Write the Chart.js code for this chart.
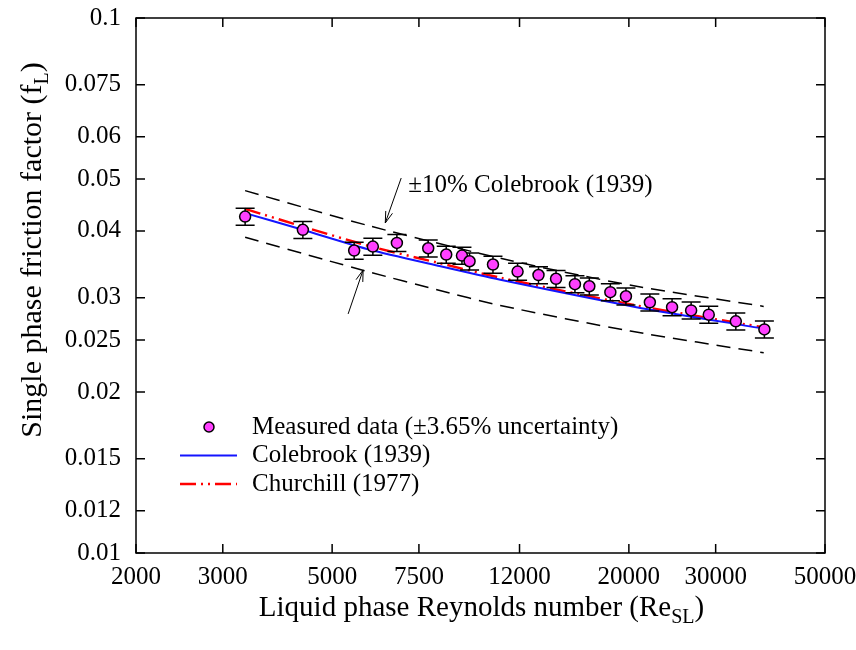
<!DOCTYPE html>
<html>
<head>
<meta charset="utf-8">
<script src="https://cdn.jsdelivr.net/npm/chart.js@4.4.1/dist/chart.umd.min.js"></script>
<style>
  html, body { margin: 0; padding: 0; background: #fff; }
  canvas { display: block; }
</style>
</head>
<body>
<canvas id="chart" width="856" height="650"></canvas>
<script>
// measured points
const reynolds = [3330, 4361, 5542, 6048, 6766, 7833, 8521, 9170, 9502, 10600, 11891,
  13112, 14231, 15546, 16627, 18342, 19729, 22060, 24472, 26752, 29048, 32964, 37670];
const frictionMeasured = [0.04254, 0.04018, 0.03676, 0.03739, 0.03799, 0.03712, 0.03613,
  0.03597, 0.03510, 0.03461, 0.03358, 0.03308, 0.03255, 0.03181, 0.03152, 0.03073,
  0.03019, 0.02942, 0.02881, 0.02841, 0.02789, 0.02710, 0.02618];
const uncertainty = 0.0365;

// correlations
const colebrookRe = [3330, 4340, 5970, 8160, 10970, 20600, 37550];
const colebrook = [0.04318, 0.04023, 0.03687, 0.03446, 0.03241, 0.02884, 0.02626];
const churchillRe = [3330, 4340, 5970, 8160, 10970, 20330, 37550];
const churchill = [0.04397, 0.04080, 0.03744, 0.03491, 0.03269, 0.02911, 0.02640];
const upperRe = [3330, 5970, 11490, 20330, 37550];
const upperBand = [0.04757, 0.04084, 0.03521, 0.03162, 0.02890];
const lowerRe = [3330, 4840, 5970, 8160, 10970, 20140, 37550];
const lowerBand = [0.03892, 0.03532, 0.03348, 0.03105, 0.02902, 0.02599, 0.02368];

// axes
const xTicks = [2000, 3000, 5000, 7500, 12000, 20000, 30000, 50000];
const yTicks = [0.01, 0.012, 0.015, 0.02, 0.025, 0.03, 0.04, 0.05, 0.06, 0.075, 0.1];

// annotation (data coordinates)
const bandLabel = '±10% Colebrook (1939)';
const bandLabelAt = [7134, 0.04874];
const arrows = [
  { from: [6904, 0.05022], to: [6409, 0.04139] },
  { from: [5388, 0.02798], to: [5779, 0.03381] }
];

const serif = "'Liberation Serif', 'Times New Roman', serif";
const pink = '#ff40ff';
const blue = '#1414ff';
const red = '#ff0000';

const pts = (xs, ys) => xs.map((x, i) => ({ x: x, y: ys[i] }));

function arrowHead(ctx, x0, y0, x1, y1) {
  const a = Math.atan2(y1 - y0, x1 - x0);
  const len = 12, spread = 0.3;
  ctx.beginPath();
  ctx.moveTo(x1 - len * Math.cos(a - spread), y1 - len * Math.sin(a - spread));
  ctx.lineTo(x1, y1);
  ctx.lineTo(x1 - len * Math.cos(a + spread), y1 - len * Math.sin(a + spread));
  ctx.stroke();
}

function subText(ctx, main, sub, tail, size) {
  // draws "main sub tail" centered at 0,0 with a subscript
  const big = size + 'px ' + serif;
  const small = Math.round(size * 0.68) + 'px ' + serif;
  ctx.font = big;
  const w1 = ctx.measureText(main).width;
  const w3 = ctx.measureText(tail).width;
  ctx.font = small;
  const w2 = ctx.measureText(sub).width;
  let x = -(w1 + w2 + w3) / 2;
  ctx.textAlign = 'left';
  ctx.textBaseline = 'alphabetic';
  ctx.font = big;
  ctx.fillText(main, x, size * 0.33);
  x += w1;
  ctx.font = small;
  ctx.fillText(sub, x, size * 0.33 + size * 0.25);
  x += w2;
  ctx.font = big;
  ctx.fillText(tail, x, size * 0.33);
}

const errorBars = {
  id: 'errorBars',
  beforeDatasetDraw(chart, args) {
    if (args.index !== 0) return;
    const { ctx, scales } = chart;
    ctx.save();
    ctx.strokeStyle = '#000';
    ctx.lineWidth = 1.5;
    reynolds.forEach((re, i) => {
      const px = scales.x.getPixelForValue(re);
      const top = scales.y.getPixelForValue(frictionMeasured[i] * (1 + uncertainty));
      const bot = scales.y.getPixelForValue(frictionMeasured[i] * (1 - uncertainty));
      ctx.beginPath();
      ctx.moveTo(px, top); ctx.lineTo(px, bot);
      ctx.moveTo(px - 9.5, top); ctx.lineTo(px + 9.5, top);
      ctx.moveTo(px - 9.5, bot); ctx.lineTo(px + 9.5, bot);
      ctx.stroke();
    });
    ctx.restore();
  }
};

const decorations = {
  id: 'decorations',
  afterDraw(chart) {
    const { ctx, chartArea: a, scales } = chart;
    const tick = 9;
    ctx.save();
    ctx.strokeStyle = '#000';
    ctx.fillStyle = '#000';
    ctx.lineWidth = 1.5;
    ctx.strokeRect(a.left, a.top, a.right - a.left, a.bottom - a.top);
    ctx.beginPath();
    xTicks.forEach(v => {
      const p = scales.x.getPixelForValue(v);
      ctx.moveTo(p, a.bottom); ctx.lineTo(p, a.bottom - tick);
      ctx.moveTo(p, a.top); ctx.lineTo(p, a.top + tick);
    });
    yTicks.forEach(v => {
      const p = scales.y.getPixelForValue(v);
      ctx.moveTo(a.left, p); ctx.lineTo(a.left + tick, p);
      ctx.moveTo(a.right, p); ctx.lineTo(a.right - tick, p);
    });
    ctx.stroke();

    // axis titles
    ctx.save();
    ctx.translate((a.left + a.right) / 2 + 1, 606);
    subText(ctx, 'Liquid phase Reynolds number (Re', 'SL', ')', 29);
    ctx.restore();
    ctx.save();
    ctx.translate(31, 250);
    ctx.rotate(-Math.PI / 2);
    subText(ctx, 'Single phase friction factor (f', 'L', ')', 30);
    ctx.restore();

    // band annotation
    ctx.font = '25px ' + serif;
    ctx.textAlign = 'left';
    ctx.textBaseline = 'middle';
    ctx.fillText(bandLabel, scales.x.getPixelForValue(bandLabelAt[0]), scales.y.getPixelForValue(bandLabelAt[1]));
    ctx.lineWidth = 1;
    arrows.forEach(ar => {
      const x0 = scales.x.getPixelForValue(ar.from[0]), y0 = scales.y.getPixelForValue(ar.from[1]);
      const x1 = scales.x.getPixelForValue(ar.to[0]), y1 = scales.y.getPixelForValue(ar.to[1]);
      ctx.beginPath(); ctx.moveTo(x0, y0); ctx.lineTo(x1, y1); ctx.stroke();
      arrowHead(ctx, x0, y0, x1, y1);
    });

    // legend
    const lx = a.left + 73, ly = a.top + 409, row = 28.5;
    const ds = chart.data.datasets;
    ctx.font = '25px ' + serif;
    ctx.textBaseline = 'middle';
    ctx.beginPath();
    ctx.arc(lx, ly, 5, 0, Math.PI * 2);
    ctx.fillStyle = pink; ctx.fill();
    ctx.lineWidth = 1.5; ctx.strokeStyle = '#000'; ctx.stroke();
    ctx.fillStyle = '#000';
    ctx.fillText(ds[0].label, lx + 43, ly);
    [1, 2].forEach((k, j) => {
      const y = ly + row * (j + 1);
      ctx.beginPath();
      ctx.setLineDash(ds[k].borderDash || []);
      ctx.strokeStyle = ds[k].borderColor;
      ctx.lineWidth = ds[k].borderWidth;
      ctx.moveTo(lx - 29, y); ctx.lineTo(lx + 28, y);
      ctx.stroke();
      ctx.setLineDash([]);
      ctx.fillText(ds[k].label, lx + 43, y);
    });
    ctx.restore();
  }
};

new Chart(document.getElementById('chart'), {
  type: 'scatter',
  data: {
    datasets: [
      {
        label: 'Measured data (±3.65% uncertainty)',
        data: pts(reynolds, frictionMeasured),
        pointRadius: 5.5,
        pointBackgroundColor: pink,
        pointBorderColor: '#000',
        pointBorderWidth: 1.5,
        showLine: false
      },
      {
        label: 'Colebrook (1939)',
        data: pts(colebrookRe, colebrook),
        showLine: true, borderColor: blue, borderWidth: 2, pointRadius: 0, tension: 0.25
      },
      {
        label: 'Churchill (1977)',
        data: pts(churchillRe, churchill),
        showLine: true, borderColor: red, borderWidth: 2.5, pointRadius: 0, tension: 0.25,
        borderDash: [16, 5, 2, 5, 2, 5]
      },
      {
        label: '+10%',
        data: pts(upperRe, upperBand),
        showLine: true, borderColor: '#000', borderWidth: 1.5, pointRadius: 0, tension: 0.25,
        borderDash: [14, 8]
      },
      {
        label: '-10%',
        data: pts(lowerRe, lowerBand),
        showLine: true, borderColor: '#000', borderWidth: 1.5, pointRadius: 0, tension: 0.25,
        borderDash: [14, 8]
      }
    ]
  },
  options: {
    responsive: false,
    animation: false,
    devicePixelRatio: 1,
    layout: { padding: { top: 18, right: 31, left: 0, bottom: 0 } },
    plugins: { legend: { display: false }, tooltip: { enabled: false } },
    scales: {
      x: {
        type: 'logarithmic', min: 2000, max: 50000,
        grid: { display: false, drawTicks: false },
        border: { display: false },
        afterBuildTicks: s => { s.ticks = xTicks.map(v => ({ value: v })); },
        afterFit: s => { s.height = 97; s.paddingLeft = 0; s.paddingRight = 0; },
        ticks: {
          callback: v => String(v), autoSkip: false, maxRotation: 0,
          padding: 9, color: '#000', font: { family: serif, size: 25 }
        }
      },
      y: {
        type: 'logarithmic', min: 0.01, max: 0.1,
        grid: { display: false, drawTicks: false },
        border: { display: false },
        afterBuildTicks: s => { s.ticks = yTicks.map(v => ({ value: v })); },
        afterFit: s => { s.width = 136; s.paddingTop = 0; s.paddingBottom = 0; },
        ticks: {
          callback: v => String(v), autoSkip: false,
          padding: 15, color: '#000', font: { family: serif, size: 25 }
        }
      }
    }
  },
  plugins: [errorBars, decorations]
});
</script>
</body>
</html>
